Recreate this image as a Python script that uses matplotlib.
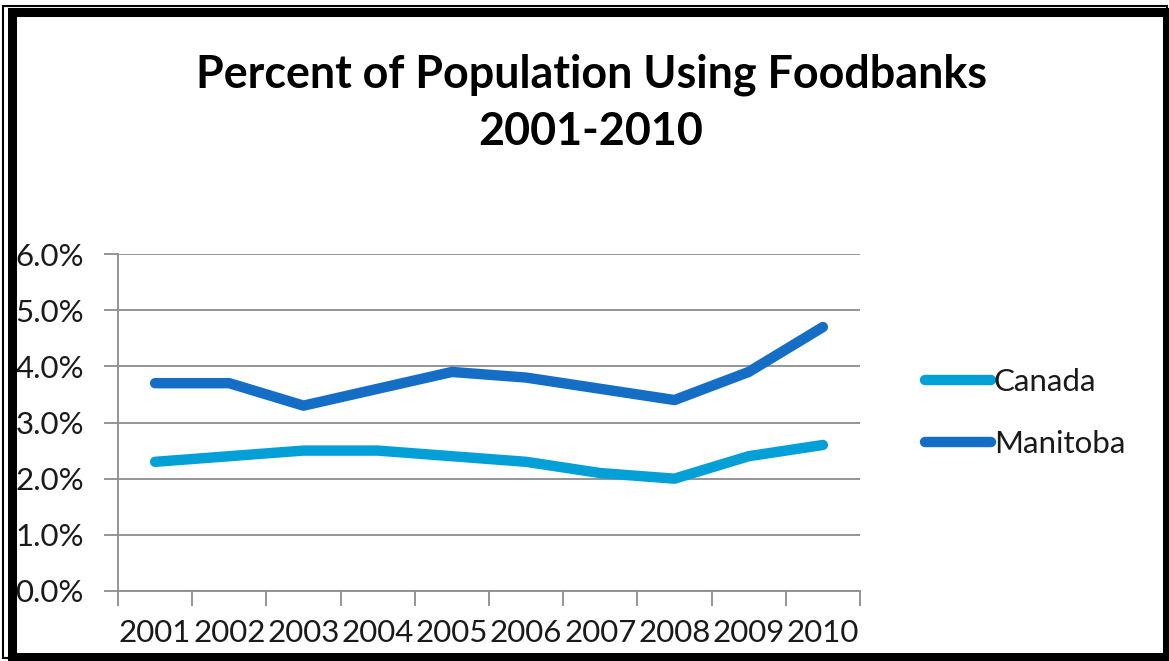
import matplotlib
matplotlib.use("Agg")
import matplotlib.pyplot as plt
from matplotlib.patches import Rectangle
from matplotlib.ticker import FixedLocator, FuncFormatter, NullFormatter

years = ["2001", "2002", "2003", "2004", "2005", "2006", "2007", "2008", "2009", "2010"]
canada = [2.3, 2.4, 2.5, 2.5, 2.4, 2.3, 2.1, 2.0, 2.4, 2.6]
manitoba = [3.7, 3.7, 3.3, 3.6, 3.9, 3.8, 3.6, 3.4, 3.9, 4.7]
yticks = [0, 1, 2, 3, 4, 5, 6]

plt.rcParams['font.family'] = ['Lato', 'DejaVu Sans']

W, H = 1169, 661
fig = plt.figure(figsize=(W / 100, H / 100), dpi=100)

def fx(px):
    return px / W

def fy(py):
    return 1 - py / H

# borders
fig.patches.append(Rectangle((fx(3), fy(658)), fx(1164), 655 / H - 3 / H,
                             transform=fig.transFigure, fill=False,
                             edgecolor='black', linewidth=1.5))
fig.patches.append(Rectangle((fx(11.5), fy(657)), fx(1155), (657 - 11.5) / H,
                             transform=fig.transFigure, fill=False,
                             edgecolor='black', linewidth=6.5))

ax = fig.add_axes([fx(118), fy(591), fx(860 - 118), (591 - 254) / H])
x = list(range(len(years)))
ax.plot(x, canada, color='#03A0D8', linewidth=7.5, solid_capstyle='round',
        solid_joinstyle='round', label='Canada', zorder=3)
ax.plot(x, manitoba, color='#156EC6', linewidth=7.5, solid_capstyle='round',
        solid_joinstyle='round', label='Manitoba', zorder=3)

ax.set_xlim(-0.5, len(years) - 0.5)
ax.set_ylim(0, 6)
ax.yaxis.set_major_locator(FixedLocator(yticks))
ax.yaxis.set_major_formatter(FuncFormatter(lambda v, p: f"{v:.1f}%"))
ax.grid(axis='y', color='#8C8C8C', linewidth=1.3)
ax.set_axisbelow(True)

# x ticks between categories, labels at centers
ax.xaxis.set_major_locator(FixedLocator([i - 0.5 for i in range(len(years) + 1)]))
ax.xaxis.set_major_formatter(NullFormatter())
ax.xaxis.set_minor_locator(FixedLocator(x))
ax.set_xticklabels(years, minor=True)
ax.tick_params(axis='x', which='major', length=11, width=1.3, color='#8C8C8C', direction='out')
ax.tick_params(axis='x', which='minor', length=0, pad=20, labelsize=22.5, labelcolor='#1a1a1a')
ax.tick_params(axis='y', length=10, width=1.3, color='#8C8C8C', direction='out',
               pad=14.5, labelsize=22.5, labelcolor='#1a1a1a')

for s in ['top', 'right']:
    ax.spines[s].set_visible(False)
ax.spines['left'].set_color('#8C8C8C')
ax.spines['left'].set_linewidth(1.3)
ax.spines['bottom'].set_color('#8C8C8C')
ax.spines['bottom'].set_linewidth(1.3)

fig.text(fx(591), fy(75), "Percent of Population Using Foodbanks", ha='center', va='center',
         fontsize=32.3, fontweight='bold', color='black')
fig.text(fx(591), fy(132), "2001-2010", ha='center', va='center',
         fontsize=32.3, fontweight='bold', color='black')

leg = ax.legend(loc='center left', bbox_to_anchor=(fx(925), fy(413)),
                bbox_transform=fig.transFigure, frameon=False, fontsize=22.5,
                handlelength=2.1, handletextpad=0.1, labelspacing=1.1,
                borderpad=0, borderaxespad=0)
for t in leg.get_texts():
    t.set_color('#1a1a1a')

fig.savefig("out.png", dpi=100)
